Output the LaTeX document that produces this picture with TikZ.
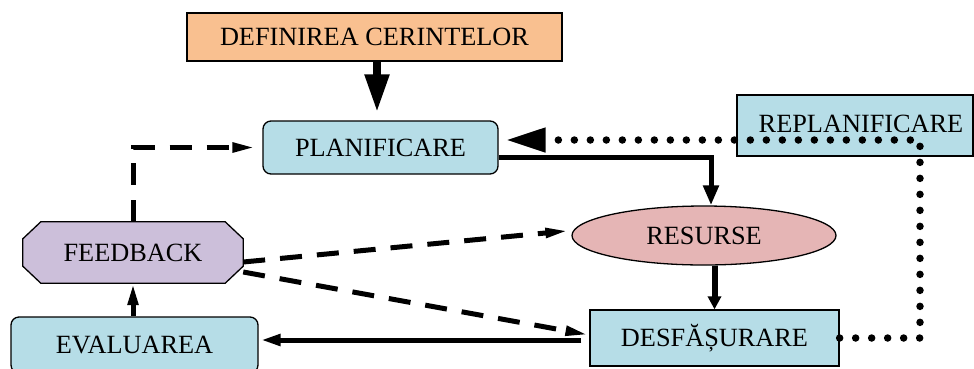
\documentclass[tikz,border=0pt]{standalone}
\usepackage{fontspec}
\setmainfont{Liberation Serif}
\usetikzlibrary{arrows.meta,shapes.geometric,backgrounds}
\definecolor{peach}{RGB}{249,192,144}
\definecolor{lblue}{RGB}{182,221,231}
\definecolor{lav}{RGB}{204,191,218}
\definecolor{rose}{RGB}{229,181,181}
\tikzset{
  sqbox/.style={draw, line width=1.3pt, fill=lblue, inner sep=0pt},
  rbox/.style={sqbox, rounded corners=8pt},
  solidarrow/.style={line width=5pt},
  dasharrow/.style={line width=5pt, dash pattern=on 22pt off 15pt, -{Triangle[length=24pt,width=9pt]}},
  dotarrow/.style={line width=7.5pt, dash pattern=on 0pt off 16pt, line cap=round, -{Triangle[length=40pt,width=23pt]}}
}
\begin{document}
\begin{tikzpicture}[x=1pt,y=-1pt,font=\fontsize{26.3}{30}\selectfont]
\useasboundingbox (0,0) rectangle (974,368);

% nodes
\node[sqbox, fill=peach, minimum width=375pt, minimum height=48pt] (def) at (374.5,37) {DEFINIREA CERINTELOR};
\node[rbox, minimum width=235pt, minimum height=53pt] (plan) at (380.5,147.5) {PLANIFICARE};
\node[sqbox, minimum width=236pt, minimum height=61pt] (repl) at (855,125.5) {\hspace*{12pt}\raisebox{3pt}{REPLANIFICARE}};
\node[ellipse, draw, line width=1.3pt, fill=rose, inner sep=0pt, minimum width=264pt, minimum height=59pt] (res) at (704,235.5) {RESURSE};
\node[sqbox, minimum width=249pt, minimum height=56pt] (desf) at (714.5,338) {DESFĂȘURARE};
\node[rbox, minimum width=247pt, minimum height=56pt] (eval) at (134.5,345) {EVALUAREA};
\node[inner sep=0pt, minimum width=220pt, minimum height=61pt] (feed) at (133,252.5) {FEEDBACK};
\begin{scope}[on background layer]
\draw[line width=1.3pt, fill=lav]
  ([xshift=18pt]feed.north west) -- ([xshift=-18pt]feed.north east)
  -- ([yshift=-17pt]feed.north east) -- ([yshift=17pt]feed.south east)
  -- ([xshift=-18pt]feed.south east) -- ([xshift=18pt]feed.south west)
  -- ([yshift=17pt]feed.south west) -- ([yshift=-17pt]feed.north west) -- cycle;
\end{scope}

% connectors
\draw[line width=8pt, -{Triangle[length=38pt,width=23pt]}, shorten >=8pt]
  ([xshift=2.5pt]def.south) -- ([xshift=-3.5pt]plan.north);
\draw[solidarrow, -{Triangle[length=20pt,width=15pt]}]
  ([yshift=-9.5pt]plan.east) -| ([xshift=7pt]res.north);
\draw[line width=6pt, -{Triangle[length=13pt,width=13pt]}]
  (res.south -| desf.north) -- (desf.north);
\draw[solidarrow, -{Triangle[length=20pt,width=11pt]}, shorten <=8pt, shorten >=2pt]
  ([yshift=-2pt]desf.west) -- ([yshift=-2pt]desf.west -| eval.east);
\draw[solidarrow, -{Triangle[length=22pt,width=10pt]}]
  (eval.north -| feed.south) -- (feed.south);
\draw[dasharrow, shorten >=6pt] (feed.north) |- (plan.west);
\draw[dasharrow, shorten >=2pt] ([yshift=-9.5pt]feed.east) -- ([yshift=5pt]res.west);
\draw[dasharrow] ([yshift=-19.5pt]feed.east) -- ([yshift=3pt]desf.west);
\coordinate (turn) at (920,140);
\draw[dotarrow, shorten >=7pt] (desf.east) -| (turn) -- (turn -| plan.east);
\end{tikzpicture}
\end{document}
